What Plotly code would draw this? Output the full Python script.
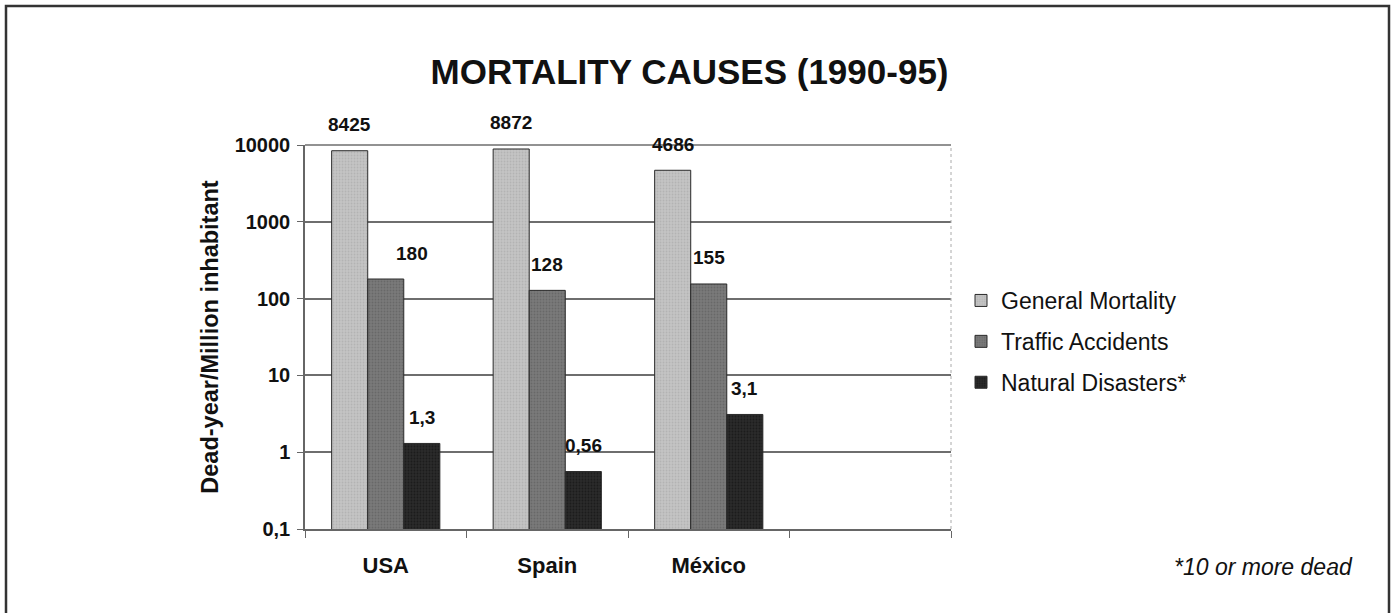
import math
import plotly.graph_objects as go

categories = ["USA", "Spain", "México", " "]
series_names = ["General Mortality", "Traffic Accidents", "Natural Disasters*"]
general_mortality = [8425, 8872, 4686, None]
traffic_accidents = [180, 128, 155, None]
natural_disasters = [1.3, 0.56, 3.1, None]
y_tick_values = [0.1, 1, 10, 100, 1000, 10000]
y_tick_labels = ["0,1", "1", "10", "100", "1000", "10000"]

series_values = [general_mortality, traffic_accidents, natural_disasters]
fill_colors = ["#c4c4c4", "#7a7a7a", "#2a2a2a"]
dot_colors = ["#a2a2a2", "#565656", "#0e0e0e"]

W, H = 1393, 613
ML, MR, MT, MB = 305, 442, 145, 84
PW, PH = W - ML - MR, H - MT - MB
FONT = "Liberation Sans, Arial, sans-serif"

def px_to_paper_x(px):
    return (px - ML) / PW

def px_to_paper_y(py):
    return (H - MB - py) / PH

fig = go.Figure()
for i, (name, vals) in enumerate(zip(series_names, series_values)):
    fig.add_trace(go.Bar(
        x=categories, y=vals, name=name,
        legendgroup=name,
        marker=dict(color=fill_colors[i],
                    line=dict(color="#2a2a2a", width=1),
                    pattern=dict(shape=".", fgcolor=dot_colors[i], bgcolor=fill_colors[i],
                                 size=3, solidity=0.3)),
    ))

bargap = 0.33
bw = (1 - bargap) / 3
label_xshift = [[0, 0, 0], [26, 0, 0], [0, 0, 0]]  # px nudges per series/category
annotations = []
for i, vals in enumerate(series_values):
    for j, v in enumerate(vals):
        if v is None:
            continue
        txt = f"{v:g}".replace(".", ",")
        annotations.append(dict(
            x=j + (i - 1) * bw, y=math.log10(v), xref="x", yref="y",
            text=txt, showarrow=False, yshift=26, xshift=label_xshift[i][j],
            font=dict(family=FONT, size=19, color="#111111", weight="bold"),
        ))

annotations.append(dict(
    x=px_to_paper_x(1355), y=px_to_paper_y(567), xref="paper", yref="paper",
    xanchor="right", yanchor="middle", showarrow=False,
    text="<i>*10 or more dead</i>",
    font=dict(family=FONT, size=23, color="#111111"),
))

fig.update_layout(
    width=W, height=H,
    margin=dict(l=ML, r=MR, t=MT, b=MB, pad=0),
    paper_bgcolor="white", plot_bgcolor="white",
    barmode="group", bargap=bargap, bargroupgap=0,
    title=dict(text="<b>MORTALITY CAUSES (1990-95)</b>", x=0.495, xanchor="center",
               y=1 - 72 / H, yanchor="middle",
               font=dict(family=FONT, size=35, color="#111111")),
    font=dict(family=FONT, color="#111111"),
    showlegend=True,
    legend=dict(x=px_to_paper_x(961), y=px_to_paper_y(279), xanchor="left", yanchor="top",
                font=dict(family=FONT, size=23, color="#111111"), tracegroupgap=8,
                bgcolor="rgba(0,0,0,0)"),
    annotations=annotations,
    shapes=[
        dict(type="rect", xref="paper", yref="paper",
             x0=px_to_paper_x(6), x1=px_to_paper_x(1389),
             y0=px_to_paper_y(640), y1=px_to_paper_y(6),
             line=dict(color="#333333", width=2.5), fillcolor="rgba(0,0,0,0)", layer="below"),
        dict(type="line", xref="paper", yref="paper", x0=1, x1=1, y0=0, y1=1,
             line=dict(color="#aaaaaa", width=1, dash="dot")),
        dict(type="line", xref="paper", yref="paper", x0=0, x1=1, y0=1, y1=1,
             line=dict(color="#6e6e6e", width=1.5), layer="below"),
    ],
)

fig.update_xaxes(
    type="category", categoryorder="array", categoryarray=categories,
    showline=True, linecolor="#666666", linewidth=1.5,
    ticks="outside", tickson="boundaries", ticklen=7, tickcolor="#666666", tickwidth=1,
    ticklabelstandoff=16, showgrid=False,
    tickfont=dict(family=FONT, size=22, color="#111111", weight="bold"),
)
fig.update_yaxes(
    type="log", range=[-1, 4],
    tickvals=y_tick_values, ticktext=y_tick_labels,
    showline=True, linecolor="#666666", linewidth=1.5,
    ticks="outside", ticklen=6, tickcolor="#666666",
    ticklabelstandoff=3,
    showgrid=True, gridcolor="#6e6e6e", gridwidth=1.5,
    tickfont=dict(family=FONT, size=20, color="#111111", weight="bold"),
    title=dict(text="<b>Dead-year/Million inhabitant</b>", standoff=9,
               font=dict(family=FONT, size=23.5, color="#111111")),
    zeroline=False,
)

fig.write_html("out.html", config={"displayModeBar": False},
               post_script="document.body.style.margin='0px';")
